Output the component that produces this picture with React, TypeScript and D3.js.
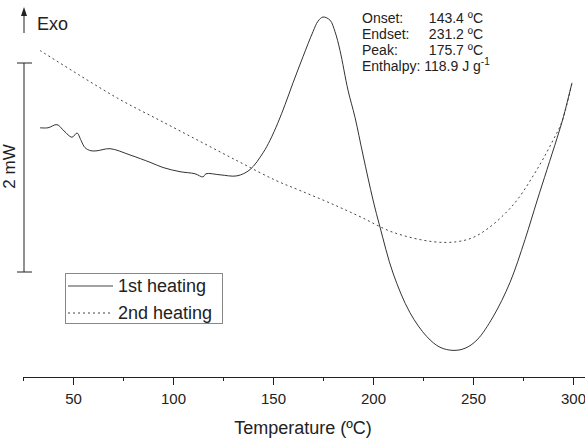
import React, { useRef, useEffect } from 'react';
import * as d3 from 'd3';

// 1st heating run: temperature (ºC) and heat flow (mW)
const temps1 = [33.5, 37.5, 42, 45.5, 49.5, 52, 54, 56, 59, 62, 68.5, 78.5, 88.5, 95, 103.5, 111, 115, 116.5, 123.5, 132, 138.5, 145, 148.5, 152.5, 156, 160, 165, 170, 172.5, 175, 178.5, 181, 183.5, 187.5, 191, 195, 200, 203.5, 210, 218.5, 227, 233.5, 240, 246, 252, 260, 268.5, 276, 282, 287, 292, 295, 299.5];
const flow1 = [1.38, 1.38, 1.41, 1.35, 1.29, 1.33, 1.26, 1.19, 1.16, 1.16, 1.18, 1.12, 1.05, 1.0, 0.96, 0.94, 0.91, 0.94, 0.93, 0.92, 0.98, 1.14, 1.26, 1.43, 1.6, 1.81, 2.06, 2.3, 2.4, 2.44, 2.41, 2.3, 2.12, 1.74, 1.48, 1.12, 0.69, 0.43, -0.01, -0.39, -0.62, -0.72, -0.75, -0.73, -0.65, -0.43, -0.1, 0.31, 0.68, 0.98, 1.28, 1.47, 1.81];

// 2nd heating run
const temps2 = [33.5, 53.5, 73.5, 93.5, 113.5, 133.5, 151, 163.5, 178.5, 193.5, 210, 230, 242, 250, 257, 265, 272.5, 283.5, 290, 294.5, 299.5];
const flow2 = [2.12, 1.88, 1.65, 1.45, 1.25, 1.05, 0.88, 0.78, 0.66, 0.53, 0.38, 0.29, 0.29, 0.33, 0.41, 0.54, 0.7, 1.03, 1.26, 1.44, 1.81];

const majorTicks = [50, 100, 150, 200, 250, 300];
const minorTicks = [25, 75, 125, 175, 225, 275];

const annotLabels = ['Onset:', 'Endset:', 'Peak:'];
const annotValues = ['143.4 ºC', '231.2 ºC', '175.7 ºC'];
const enthalpy = '118.9';

const legendNames = ['1st heating', '2nd heating'];

const FONT = "'Liberation Sans', Arial, sans-serif";
const INK = '#222';

const DscChart = () => {
  const svgRef = useRef(null);

  useEffect(() => {
    const svg = d3.select(svgRef.current);
    svg.selectAll('*').remove();

    const x = d3.scaleLinear().domain([25, 306]).range([23, 585]);
    // 2 mW scale bar spans y(0)..y(2)
    const y = d3.scaleLinear().domain([0, 2]).range([272, 63]);

    const line = d3.line()
      .x(d => x(d[0]))
      .y(d => y(d[1]))
      .curve(d3.curveCatmullRom.alpha(0.5));

    const run1 = temps1.map((t, i) => [t, flow1[i]]);
    const run2 = temps2.map((t, i) => [t, flow2[i]]);

    svg.append('path')
      .datum(run2)
      .attr('fill', 'none')
      .attr('stroke', '#444')
      .attr('stroke-width', 1)
      .attr('stroke-dasharray', '2 3')
      .attr('d', line);

    svg.append('path')
      .datum(run1)
      .attr('fill', 'none')
      .attr('stroke', '#333')
      .attr('stroke-width', 1)
      .attr('d', line);

    // x axis
    const axisY = 377;
    const xAxis = d3.axisBottom(x)
      .tickValues(majorTicks)
      .tickSize(8)
      .tickSizeOuter(0)
      .tickPadding(8);
    const ax = svg.append('g')
      .attr('transform', `translate(0,${axisY})`)
      .call(xAxis);
    ax.select('.domain').attr('stroke', INK);
    ax.selectAll('.tick line').attr('stroke', INK);
    ax.selectAll('.tick text')
      .attr('fill', INK)
      .style('font-family', FONT)
      .style('font-size', '15px');

    const minorAxis = d3.axisBottom(x)
      .tickValues(minorTicks)
      .tickSize(4)
      .tickSizeOuter(0)
      .tickFormat(() => '');
    const mx = svg.append('g')
      .attr('transform', `translate(0,${axisY})`)
      .call(minorAxis);
    mx.select('.domain').remove();
    mx.selectAll('.tick line').attr('stroke', INK);

    svg.append('text')
      .attr('x', 303)
      .attr('y', 434)
      .attr('text-anchor', 'middle')
      .style('font-family', FONT)
      .style('font-size', '18px')
      .attr('fill', INK)
      .text('Temperature (ºC)');

    // 2 mW scale bar
    const barX = 24;
    svg.append('line')
      .attr('x1', barX).attr('x2', barX)
      .attr('y1', y(0)).attr('y2', y(2))
      .attr('stroke', INK);
    [0, 2].forEach(v => {
      svg.append('line')
        .attr('x1', barX - 7).attr('x2', barX + 8)
        .attr('y1', y(v)).attr('y2', y(v))
        .attr('stroke', INK);
    });
    svg.append('text')
      .attr('transform', `translate(14.5,${y(1) - 1}) rotate(-90)`)
      .attr('text-anchor', 'middle')
      .style('font-family', FONT)
      .style('font-size', '17px')
      .attr('fill', INK)
      .text('2 mW');

    // Exo arrow
    svg.append('line')
      .attr('x1', barX).attr('x2', barX)
      .attr('y1', 33).attr('y2', 14)
      .attr('stroke', INK);
    svg.append('path')
      .attr('d', `M${barX - 3},16 L${barX},7 L${barX + 3},16 Z`)
      .attr('fill', INK);
    svg.append('text')
      .attr('x', 37)
      .attr('y', 30)
      .style('font-family', FONT)
      .style('font-size', '18px')
      .attr('fill', INK)
      .text('Exo');

    // peak annotation
    const annot = svg.append('g')
      .style('font-family', FONT)
      .style('font-size', '14px')
      .attr('fill', INK);
    const rowY = [22.5, 38.5, 55, 71];
    annotLabels.forEach((lab, i) => {
      annot.append('text').attr('x', 362).attr('y', rowY[i]).text(lab);
      annot.append('text')
        .attr('x', 483).attr('y', rowY[i])
        .attr('text-anchor', 'end')
        .text(annotValues[i]);
    });
    const eth = annot.append('text').attr('x', 362).attr('y', rowY[3]);
    eth.append('tspan').text(`Enthalpy: ${enthalpy} J g`);
    eth.append('tspan')
      .attr('dy', -6)
      .style('font-size', '10px')
      .text('-1');

    // legend
    const legend = svg.append('g');
    legend.append('rect')
      .attr('x', 65.5).attr('y', 273.5)
      .attr('width', 157).attr('height', 50)
      .attr('fill', 'white')
      .attr('stroke', '#888');
    legendNames.forEach((name, i) => {
      const ly = 286 + i * 27;
      legend.append('line')
        .attr('x1', 68).attr('x2', 113)
        .attr('y1', ly).attr('y2', ly)
        .attr('stroke', '#444')
        .attr('stroke-dasharray', i === 1 ? '2 3' : null);
      legend.append('text')
        .attr('x', 118)
        .attr('y', ly + 6)
        .style('font-family', FONT)
        .style('font-size', '18px')
        .attr('fill', INK)
        .text(name);
    });
  }, []);

  return (
    <svg
      ref={svgRef}
      width={585}
      height={445}
      style={{ position: 'absolute', left: 0, top: 0, background: 'white' }}
    />
  );
};

export default function App() {
  return <DscChart />;
}
